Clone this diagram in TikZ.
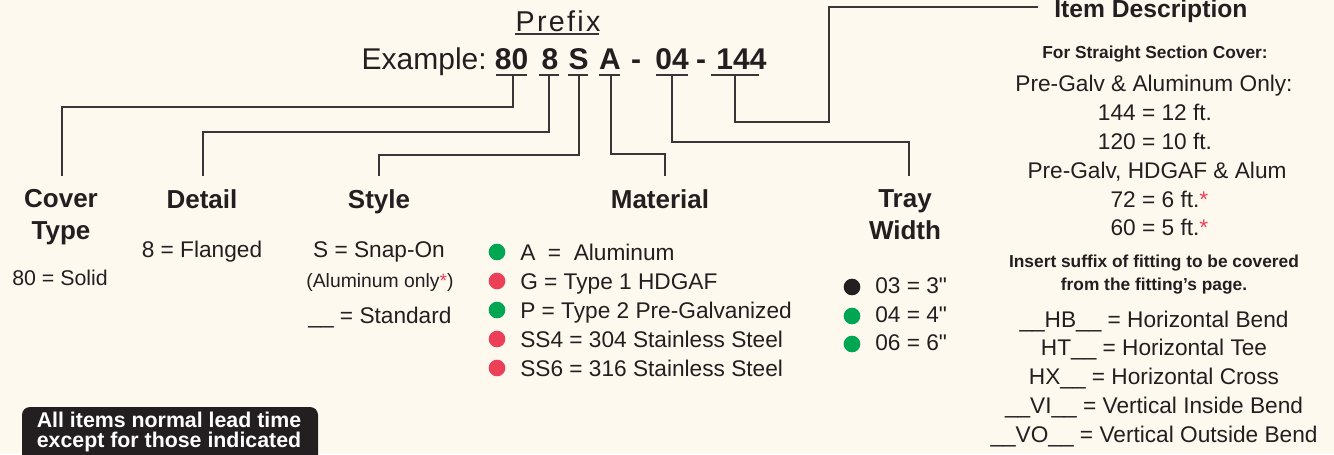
\documentclass[tikz,border=0pt]{standalone}
\usepackage{fontspec}
\setmainfont{Liberation Sans}
\newfontfamily\spacedfont[LetterSpace=8]{Liberation Sans}
\newfontfamily\qfont[Ligatures=TeXOff]{Liberation Sans}
\definecolor{bgc}{HTML}{FDF9EE}
\definecolor{textc}{HTML}{231F20}
\definecolor{linec}{HTML}{3A3637}
\definecolor{greenc}{HTML}{00A651}
\definecolor{redc}{HTML}{EC4058}
\begin{document}
\begin{tikzpicture}[x=0.75pt,y=-0.75pt,
  txt/.style={inner sep=0pt, anchor=base, text=textc},
  head/.style={inner sep=0pt, anchor=north, text=textc, align=center, font=\fontsize{19.5pt}{24pt}\selectfont\bfseries},
  item/.style={txt, font=\fontsize{17pt}{20pt}\selectfont},
  itemw/.style={item, anchor=base west},
  smallbold/.style={txt, font=\fontsize{13pt}{17pt}\selectfont\bfseries},
  code/.style={txt, font=\fontsize{22.5pt}{27pt}\selectfont\bfseries},
  conn/.style={draw=linec, line width=0.95pt},
  uline/.style={draw=linec, line width=0.95pt},
  dot/.style={circle, inner sep=0pt, minimum size=12.5pt},
  ast/.style={text=redc}]
\useasboundingbox (0,0) rectangle (1334,454);
\fill[bgc] (0,0) rectangle (1334,454);

% title
\node[txt, font=\spacedfont\fontsize{21.5pt}{25pt}\selectfont] (prefix) at (558,31) {Prefix};
\draw[uline] ([yshift=-1.9pt]prefix.south west) -- ([yshift=-1.9pt,xshift=-1pt]prefix.south east);
\node[txt, anchor=base east, font=\fontsize{22.5pt}{27pt}\selectfont] (example) at (487,69) {Example:};
\node[code] (c80) at (511.5,69) {80};
\node[code] (c8) at (550,69) {8};
\node[code] (cS) at (578.5,69) {S};
\node[code] (cA) at (610,69) {A};
\node[code] (d1) at (636,69) {-};
\node[code] (c04) at (672,69) {04};
\node[code] (d2) at (701,69) {-};
\node[code] (c144) at (741.5,69) {144};

% underlines
\draw[uline] (496,75) -- (527,75);
\draw[uline] (539,75) -- (559,75);
\draw[uline] (568,75) -- (588,75);
\draw[uline] (599,75) -- (620,75);
\draw[uline] (656,75) -- (688,75);
\draw[uline] (711,75) -- (759,75);
\coordinate (u80) at (513,75);
\coordinate (u8) at (549,75);
\coordinate (uS) at (579,75);
\coordinate (uA) at (611,75);
\coordinate (u04) at (672,75);
\coordinate (u144) at (735,75);

% headings
\node[head] (cover) at (61,189.5) {Cover\\Type};
\node[head] (detail) at (202,189.5) {Detail};
\node[head] (style) at (379,189.5) {Style};
\node[head] (material) at (660,189.5) {Material};
\node[head] (tray) at (905,189.5) {Tray\\Width};
\coordinate (tcov) at (62,176);
\coordinate (tdet) at (203,176);
\coordinate (tsty) at (379,176);
\coordinate (tmat) at (665,176);
\coordinate (ttray) at (909,176);

% connectors
\draw[conn] (u80) -- ++(0,32) -| (tcov);
\draw[conn] (u8) -- ++(0,57) -| (tdet);
\draw[conn] (uS) -- ++(0,80) -| (tsty);
\draw[conn] (uA) -- ++(0,79) -| (tmat);
\draw[conn] (u04) -- ++(0,67) -| (ttray);
\node[txt, anchor=base west, font=\fontsize{18.5pt}{22pt}\selectfont\bfseries] (idesc) at (1054,17) {Item Description};
\coordinate (cid) at (829,7);
\coordinate (eid) at (1038,7);
\draw[conn] (u144) -- ++(0,47) -| (cid) -- (eid);

% cover type / detail / style
\node[txt, font=\fontsize{16pt}{20pt}\selectfont] (solid) at (60,285) {80 = Solid};
\node[item] (flanged) at (202,257) {8 = Flanged};
\node[item] (snap) at (379,257) {S = Snap-On};
\node[txt, font=\fontsize{14.5pt}{18pt}\selectfont] (alonly) at (380,287) {(Aluminum only{\color{redc}*})};
\node[item] (standard) at (380,323) {\_\_ = Standard};

% material
\node[dot, fill=greenc] (dA) at (497,252) {};
\node[dot, fill=redc] (dG) at (497,281) {};
\node[dot, fill=greenc] (dP) at (497,310) {};
\node[dot, fill=redc] (dS4) at (497,339) {};
\node[dot, fill=redc] (dS6) at (497,368) {};
\node[itemw] (mA) at (520,260) {A\ \ =\ \ Aluminum};
\node[itemw] (mG) at (520,289) {G = Type 1 HDGAF};
\node[itemw] (mP) at (520,318) {P = Type 2 Pre-Galvanized};
\node[itemw] (mS4) at (520,347) {SS4 = 304 Stainless Steel};
\node[itemw] (mS6) at (520,376) {SS6 = 316 Stainless Steel};

% tray width
\node[dot, fill=textc] (d03) at (852,287) {};
\node[dot, fill=greenc] (d04) at (852,316) {};
\node[dot, fill=greenc] (d06) at (852,344) {};
\node[itemw, font=\qfont\fontsize{17pt}{20pt}\selectfont] (t03) at (875,293) {03 = 3"};
\node[itemw, font=\qfont\fontsize{17pt}{20pt}\selectfont] (t04) at (875,322) {04 = 4"};
\node[itemw, font=\qfont\fontsize{17pt}{20pt}\selectfont] (t06) at (875,350) {06 = 6"};

% item description column
\node[smallbold] (straight) at (1155,58) {For Straight Section Cover:};
\node[item] (r1) at (1154,91) {Pre-Galv \& Aluminum Only:};
\node[item] (r2) at (1155,120) {144 = 12 ft.};
\node[item] (r3) at (1155,149) {120 = 10 ft.};
\node[item] (r4) at (1157,178) {Pre-Galv, HDGAF \& Alum};
\node[item] (r5) at (1155,207) {72 = 6 ft.\rlap{\color{redc}*}};
\node[item] (r6) at (1155,235) {60 = 5 ft.\rlap{\color{redc}*}};
\node[smallbold] (ins1) at (1154,267) {Insert suffix of fitting to be covered};
\node[smallbold] (ins2) at (1154,290) {from the fitting’s page.};
\node[item] (f1) at (1154,327) {\_\_HB\_\_ = Horizontal Bend};
\node[item] (f2) at (1154,355) {HT\_\_ = Horizontal Tee};
\node[item] (f3) at (1154,384) {HX\_\_ = Horizontal Cross};
\node[item] (f4) at (1154,413) {\_\_VI\_\_ = Vertical Inside Bend};
\node[item] (f5) at (1154,442) {\_\_VO\_\_ = Vertical Outside Bend};

% lead time box
\fill[textc, rounded corners=6pt] (22,407) rectangle (318,475);
\node[txt, text=white, font=\fontsize{16pt}{15pt}\selectfont\bfseries] (lead1) at (169,427) {All items normal lead time};
\node[txt, text=white, font=\fontsize{16pt}{15pt}\selectfont\bfseries] (lead2) at (169,447) {except for those indicated};
\end{tikzpicture}
\end{document}
